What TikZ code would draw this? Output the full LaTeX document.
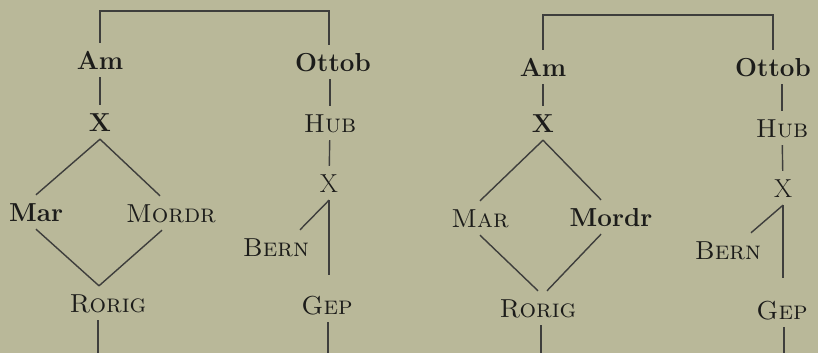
\documentclass[tikz,border=0pt]{standalone}
\usepackage{tikz}
\usetikzlibrary{positioning,calc}
\definecolor{paper}{RGB}{185,184,153}
\definecolor{ink}{RGB}{28,28,26}

\begin{document}
\begin{tikzpicture}[x=1pt, y=-1pt, every node/.style={font=\fontsize{26}{30}\selectfont}]
            \tikzstyle{ms}=[text=ink, inner sep=8pt, text height=18pt, text depth=0pt]
            \tikzstyle{msb}=[ms, font=\fontsize{26}{30}\selectfont\bfseries]
            \tikzstyle{mssc}=[ms, font=\fontsize{26}{30}\selectfont\scshape]
            \tikzstyle{link}=[draw=ink!85, line width=1.4pt]

            \fill[paper] (0,0) rectangle (818,353);
            \useasboundingbox (0,0) rectangle (818,353);

            % first stemma
            \node[msb] (am1) at (100,60) {Am};
            \node[msb] (xa1) at (100,122) {X};
            \node[msb] (mar1) at (36,212) {Mar};
            \node[mssc] (mordr1) at (171,213) {Mordr};
            \node[mssc] (rorig1) at (108,303) {Rorig};
            \node[msb] (ottob1) at (333,62) {Ottob};
            \node[mssc] (hub1) at (330,123) {Hub};
            \node[ms] (xb1) at (329,183) {X};
            \node[mssc] (bern1) at (276,247) {Bern};
            \node[mssc] (gep1) at (327,305) {Gep};
            \coordinate (top1) at (99,11);
            \coordinate (foot1) at (98,353);
            \coordinate (foot2) at (328,353);

            % second stemma
            \node[msb] (am2) at (543,67) {Am};
            \node[msb] (xa2) at (543,123) {X};
            \node[mssc] (mar2) at (480,218) {Mar};
            \node[msb] (mordr2) at (611,217) {Mordr};
            \node[mssc] (rorig2) at (538,308) {Rorig};
            \node[msb] (ottob2) at (773,67) {Ottob};
            \node[mssc] (hub2) at (782,128) {Hub};
            \node[ms] (xb2) at (783,188) {X};
            \node[mssc] (bern2) at (728,250) {Bern};
            \node[mssc] (gep2) at (782,310) {Gep};
            \coordinate (top2) at (542,15);
            \coordinate (foot3) at (541,353);
            \coordinate (foot4) at (784,353);

            \draw[link] (am1.north) -- (am1.north |- top1) -| ([xshift=-4pt]ottob1.north);
            \draw[link] (am1) -- (xa1);
            \draw[link] (xa1.south) -- (mar1.north);
            \draw[link] (xa1.south) -- ([xshift=-11pt]mordr1.north);
            \draw[link] (mar1.south) -- ([xshift=-9pt]rorig1.north);
            \draw[link] ([xshift=-9pt]mordr1.south) -- ([xshift=-9pt]rorig1.north);
            \draw[link] (foot1 |- rorig1.south) -- (foot1);
            \draw[link] (hub1.north) -- (hub1.north |- ottob1.south);
            \draw[link] (xb1) -- (hub1);
            \draw[link] (xb1.south) -- ([xshift=24pt]bern1.north);
            \draw[link, shorten >=13pt] (xb1.south) -- (xb1.south |- gep1.north);
            \draw[link] (foot2 |- gep1.south) -- (foot2);

            \draw[link] (am2.north) -- (am2.north |- top2) -| (ottob2.north);
            \draw[link] (am2) -- (xa2);
            \draw[link] (xa2.south) -- (mar2.north);
            \draw[link] (xa2.south) -- ([xshift=-10pt]mordr2.north);
            \draw[link] (mar2.south) -- (rorig2.north);
            \draw[link] ([xshift=-10pt]mordr2.south) -- ([xshift=9pt]rorig2.north);
            \draw[link] (foot3 |- rorig2.south) -- (foot3);
            \draw[link] (hub2.north) -- (hub2.north |- ottob2.south);
            \draw[link] (xb2) -- (hub2);
            \draw[link] (xb2.south) -- ([xshift=23pt]bern2.north);
            \draw[link, shorten >=15pt] (xb2.south) -- (xb2.south |- gep2.north);
            \draw[link] (foot4 |- gep2.south) -- (foot4);
        \end{tikzpicture}
\end{document}
